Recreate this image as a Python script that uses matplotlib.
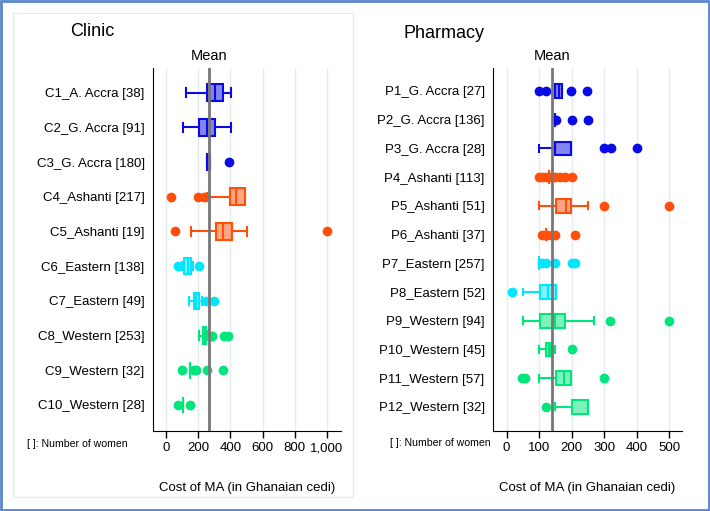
import matplotlib.pyplot as plt
import matplotlib.patches as patches
from matplotlib.colors import to_rgba
from matplotlib.ticker import FuncFormatter

plt.rcParams['font.family'] = ['Liberation Sans', 'DejaVu Sans']

# Data
clinic_labels = ['C1_A. Accra [38]', 'C2_G. Accra [91]', 'C3_G. Accra [180]',
                 'C4_Ashanti [217]', 'C5_Ashanti [19]', 'C6_Eastern [138]',
                 'C7_Eastern [49]', 'C8_Western [253]', 'C9_Western [32]',
                 'C10_Western [28]']
clinic_region = ['Accra', 'Accra', 'Accra', 'Ashanti', 'Ashanti', 'Eastern',
                 'Eastern', 'Western', 'Western', 'Western']
clinic_whislo = [124, 104, 257, 253, 155, 100, 145, 203, 150, 104]
clinic_q1 = [257, 207, 257, 397, 309, 114, 172, 228, 150, 104]
clinic_med = [306, 257, 262, 435, 354, 135, 186, 238, 150, 104]
clinic_q3 = [352, 304, 272, 489, 412, 155, 203, 248, 150, 104]
clinic_whishi = [404, 404, 272, 489, 503, 166, 224, 255, 150, 104]
clinic_fliers = [[], [], [390], [30, 200, 235], [55, 1000], [72, 203],
                 [248, 300], [275, 286, 362, 383], [100, 172, 186, 252, 352],
                 [75, 151]]
clinic_mean = 265

pharm_labels = ['P1_G. Accra [27]', 'P2_G. Accra [136]', 'P3_G. Accra [28]',
                'P4_Ashanti [113]', 'P5_Ashanti [51]', 'P6_Ashanti [37]',
                'P7_Eastern [257]', 'P8_Eastern [52]', 'P9_Western [94]',
                'P10_Western [45]', 'P11_Western [57]', 'P12_Western [32]']
pharm_region = ['Accra', 'Accra', 'Accra', 'Ashanti', 'Ashanti', 'Ashanti',
                'Eastern', 'Eastern', 'Western', 'Western', 'Western', 'Western']
pharm_whislo = [149, 150, 100, 130, 100, 120, 100, 51, 51, 100, 100, 150]
pharm_q1 = [149, 150, 149, 130, 151, 120, 100, 103, 102, 120, 151, 202]
pharm_med = [160, 150, 149, 130, 184, 120, 100, 127, 150, 130, 177, 250]
pharm_q3 = [169, 150, 198, 130, 198, 120, 100, 151, 179, 138, 199, 250]
pharm_whishi = [169, 150, 198, 130, 249, 120, 100, 151, 270, 150, 199, 250]
pharm_fliers = [[99, 120, 198, 248], [152, 200, 250], [300, 320, 400],
                [100, 110, 120, 135, 150, 165, 180, 200], [300, 500],
                [110, 125, 140, 150, 210], [110, 120, 150, 200, 210], [16],
                [318, 500], [200], [46, 57, 300], [120]]
pharm_mean = 140

region_colors = {'Accra': '#0a0ae6', 'Ashanti': '#ff4f0a',
                 'Eastern': '#00e6ff', 'Western': '#00e67a'}

W, H = 710, 511
fig = plt.figure(figsize=(W / 100, H / 100), dpi=100)


def rect(x0, y0, x1, y1):
    # pixel box (top-left origin) -> figure fraction rect
    return [x0 / W, 1 - y1 / H, (x1 - x0) / W, (y1 - y0) / H]


def draw_panel(ax, labels, regions, wlo, q1, med, q3, whi, fliers, mean,
               xlim, ylim, xticks, fmt):
    stats = []
    for i in range(len(labels)):
        stats.append(dict(med=med[i], q1=q1[i], q3=q3[i], whislo=wlo[i],
                          whishi=whi[i], fliers=fliers[i]))
    pos = list(range(1, len(labels) + 1))
    bp = ax.bxp(stats, positions=pos, orientation='horizontal',
                patch_artist=True, widths=0.48, showfliers=True, zorder=3)
    for i, r in enumerate(regions):
        c = region_colors[r]
        bp['boxes'][i].set_facecolor(to_rgba(c, 0.5))
        bp['boxes'][i].set_edgecolor(c)
        bp['boxes'][i].set_linewidth(1.5)
        bp['medians'][i].set_color(c)
        bp['medians'][i].set_linewidth(1.5)
        for k in (2 * i, 2 * i + 1):
            bp['whiskers'][k].set_color(c)
            bp['whiskers'][k].set_linewidth(1.5)
            bp['caps'][k].set_color(c)
            bp['caps'][k].set_linewidth(1.5)
        bp['fliers'][i].set(marker='o', markersize=6, markerfacecolor=c,
                            markeredgecolor=c, linestyle='none')
    ax.axvline(mean, color='#777777', lw=2, zorder=4)
    ax.text(mean, 1.015, 'Mean', transform=ax.get_xaxis_transform(),
            ha='center', va='bottom', fontsize=10.5)
    ax.set_xlim(*xlim)
    ax.set_ylim(*ylim)
    ax.set_xticks(xticks)
    ax.xaxis.set_major_formatter(FuncFormatter(fmt))
    ax.set_yticks(pos)
    ax.set_yticklabels(labels)
    ax.tick_params(axis='y', length=0, pad=6, labelsize=9.5)
    ax.tick_params(axis='x', length=5, width=1, pad=3, labelsize=9.5)
    ax.grid(axis='x', color='#e3ecef', lw=1, zorder=0)
    ax.set_axisbelow(True)
    for s in ('top', 'right'):
        ax.spines[s].set_visible(False)
    ax.set_xlabel('Cost of MA (in Ghanaian cedi)', fontsize=9.5, labelpad=20)


ax1 = fig.add_axes(rect(153, 68, 341, 431))
draw_panel(ax1, clinic_labels, clinic_region, clinic_whislo, clinic_q1,
           clinic_med, clinic_q3, clinic_whishi, clinic_fliers, clinic_mean,
           (-81, 1087), (10.75, 0.29), [0, 200, 400, 600, 800, 1000],
           lambda v, p: f'{v:,.0f}')

ax2 = fig.add_axes(rect(493, 68, 682, 431))
draw_panel(ax2, pharm_labels, pharm_region, pharm_whislo, pharm_q1,
           pharm_med, pharm_q3, pharm_whishi, pharm_fliers, pharm_mean,
           (-42, 540), (12.84, 0.2), [0, 100, 200, 300, 400, 500],
           lambda v, p: f'{v:.0f}')

# titles and notes
fig.text(92 / W, 1 - 31 / H, 'Clinic', ha='center', va='center', fontsize=13)
fig.text(444 / W, 1 - 33 / H, 'Pharmacy', ha='center', va='center', fontsize=13)
fig.text(27 / W, 1 - 444 / H, '[ ]: Number of women', ha='left', va='center',
         fontsize=7.6)
fig.text(390 / W, 1 - 443 / H, '[ ]: Number of women', ha='left', va='center',
         fontsize=7.6)

# panel frame and outer border
fig.add_artist(patches.Rectangle((13 / W, 1 - 497 / H), 340 / W, 484 / H,
                                 transform=fig.transFigure, fill=False,
                                 edgecolor='#e4ebf0', lw=1))
fig.add_artist(patches.Rectangle((1 / W, 1 / H), 708 / W, 509 / H,
                                 transform=fig.transFigure, fill=False,
                                 edgecolor='#5a85cc', lw=2))

fig.savefig('out.png', dpi=100)
